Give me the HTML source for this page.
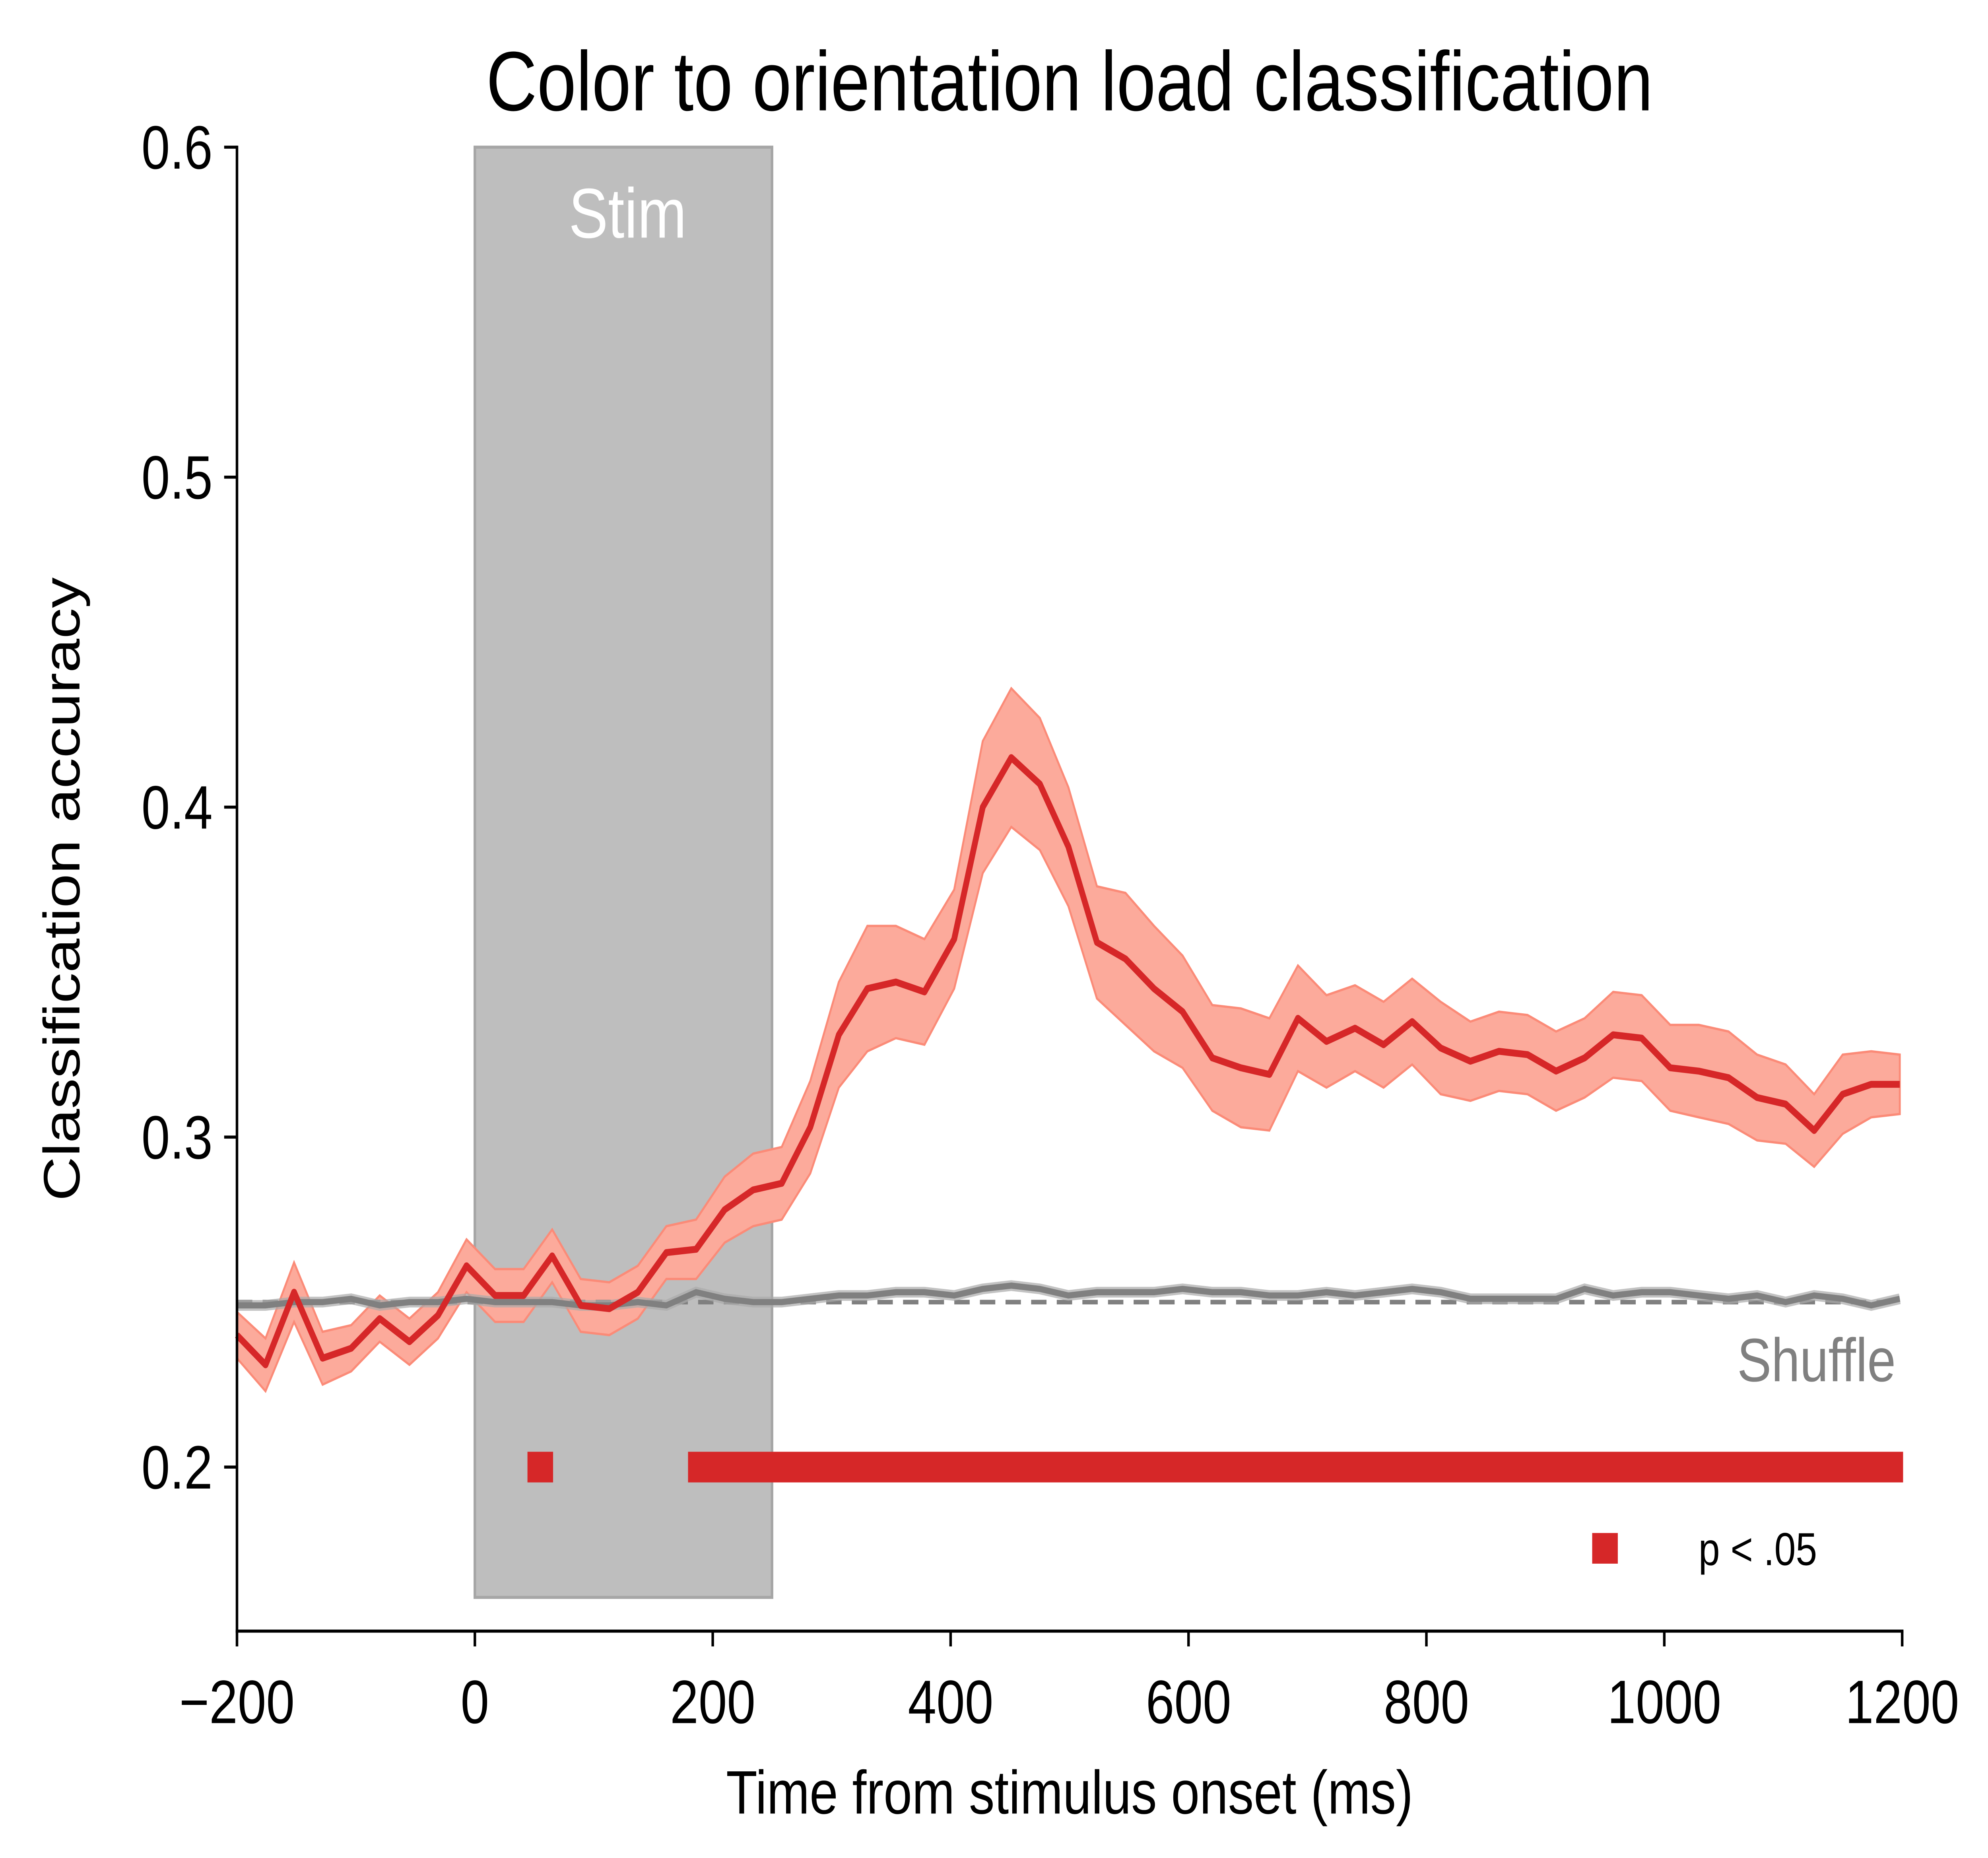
<!DOCTYPE html>
<html><head><meta charset="utf-8"><style>html,body{margin:0;padding:0;background:#fff;width:100%;height:100%;overflow:hidden}svg{display:block;width:100vw;height:100vh}text{font-family:"Liberation Sans",Arial,sans-serif}</style></head>
<body>
<svg id="chart" viewBox="0 0 1552 1212" preserveAspectRatio="none" xmlns="http://www.w3.org/2000/svg">
<rect x="0" y="0" width="1552" height="1212" fill="#fff"/>
<text x="835" y="72" font-size="55" text-anchor="middle">Color to orientation load classification</text>
<rect x="370.7" y="96" width="232" height="946" fill="#bebebe" stroke="#a6a6a6" stroke-width="2"/>
<text x="490" y="155" font-size="46" fill="#fff" text-anchor="middle">Stim</text>
<g id="plot"></g>
<g id="axes"></g>
<text x="1480" y="901" font-size="40" fill="#808080" text-anchor="end">Shuffle</text>
<rect x="1243" y="1000" width="20" height="20" fill="#d62728"/>
<text x="1326" y="1021" font-size="30">p &lt; .05</text>
<text x="835" y="1183" font-size="40" text-anchor="middle">Time from stimulus onset (ms)</text>
<text transform="translate(62,580) rotate(-90)" font-size="40" text-anchor="middle">Classification accuracy</text>
</svg>
<script>
const times=[-200,-176,-152,-128,-104,-80,-55,-31,-7,17,41,65,89,113,137,161,186,210,234,258,282,306,330,354,378,403,427,451,475,499,523,547,571,595,620,644,668,692,716,740,764,788,812,837,861,885,909,933,957,981,1005,1029,1054,1078,1102,1126,1150,1174,1198];
const accuracy=[0.240,0.231,0.253,0.233,0.236,0.245,0.238,0.246,0.261,0.252,0.252,0.264,0.249,0.248,0.253,0.265,0.266,0.278,0.284,0.286,0.303,0.331,0.345,0.347,0.344,0.360,0.400,0.415,0.407,0.388,0.359,0.354,0.345,0.338,0.324,0.321,0.319,0.336,0.329,0.333,0.328,0.335,0.327,0.323,0.326,0.325,0.320,0.324,0.331,0.330,0.321,0.320,0.318,0.312,0.310,0.302,0.313,0.316,0.316];
const errors=[0.007,0.008,0.009,0.008,0.007,0.007,0.007,0.007,0.008,0.008,0.008,0.008,0.008,0.008,0.008,0.008,0.009,0.010,0.011,0.011,0.014,0.016,0.019,0.017,0.016,0.015,0.020,0.021,0.020,0.018,0.017,0.020,0.019,0.017,0.016,0.018,0.017,0.016,0.014,0.013,0.013,0.013,0.014,0.012,0.012,0.012,0.012,0.012,0.013,0.013,0.013,0.014,0.014,0.013,0.012,0.011,0.012,0.010,0.009];
const shuffle=[0.249,0.249,0.250,0.250,0.251,0.249,0.250,0.250,0.251,0.250,0.250,0.250,0.249,0.249,0.250,0.249,0.253,0.251,0.250,0.250,0.251,0.252,0.252,0.253,0.253,0.252,0.254,0.255,0.254,0.252,0.253,0.253,0.253,0.254,0.253,0.253,0.252,0.252,0.253,0.252,0.253,0.254,0.253,0.251,0.251,0.251,0.251,0.254,0.252,0.253,0.253,0.252,0.251,0.252,0.250,0.252,0.251,0.249,0.251];
const sigTimes=[55,190,1190];
const xTicks=[-200,0,200,400,600,800,1000,1200];
const xTickLabels=["\u2212200","0","200","400","600","800","1000","1200"];
const yTicks=[0.2,0.3,0.4,0.5,0.6];
const yTickLabels=["0.2","0.3","0.4","0.5","0.6"];
const chance=0.25, sigLevel=0.2;

const X=t=>185+(t+200)*1300/1400;
const Y=v=>957-(v-0.2)*2152.5;
const NS="http://www.w3.org/2000/svg";
function mk(tag,attrs,parent){const e=document.createElementNS(NS,tag);for(const k in attrs)e.setAttribute(k,attrs[k]);parent.appendChild(e);return e;}
const plot=document.getElementById('plot'), axes=document.getElementById('axes');

let up=times.map((t,i)=>X(t)+','+Y(accuracy[i]+errors[i]));
let lo=times.map((t,i)=>X(t)+','+Y(accuracy[i]-errors[i])).reverse();
const band=mk('polygon',{points:up.concat(lo).join(' '),fill:'#fcaa9b',stroke:'#fb8b78','stroke-width':1.5},plot);


const ch=mk('line',{x1:X(-200),x2:X(1190),y1:Y(chance),y2:Y(chance),stroke:'#808080','stroke-width':3,'stroke-dasharray':'12,8'},plot);


const shb=mk('polyline',{points:times.map((t,i)=>X(t)+','+Y(shuffle[i])).join(' '),fill:'none',stroke:'#aaaaaa','stroke-width':7,opacity:0.7},plot);


const sh=mk('polyline',{points:times.map((t,i)=>X(t)+','+Y(shuffle[i])).join(' '),fill:'none',stroke:'#808080','stroke-width':4},plot);


const ln=mk('polyline',{points:times.map((t,i)=>X(t)+','+Y(accuracy[i])).join(' '),fill:'none',stroke:'#d62728','stroke-width':4.5,'stroke-linejoin':'round'},plot);


const s1=mk('rect',{x:X(sigTimes[0])-10,y:Y(sigLevel)-10,width:20,height:20,fill:'#d62728'},plot);


const s2=mk('rect',{x:X(sigTimes[1])-10,y:Y(sigLevel)-10,width:X(sigTimes[2])-X(sigTimes[1])+20,height:20,fill:'#d62728'},plot);


const xa=mk('line',{x1:184,x2:1486,y1:1064,y2:1064,stroke:'#000','stroke-width':2},axes);


const ya=mk('line',{x1:185,x2:185,y1:95,y2:1065,stroke:'#000','stroke-width':2},axes);


xTicks.forEach((t,i)=>{
  const tk=mk('line',{x1:X(t),x2:X(t),y1:1064,y2:1074,stroke:'#000','stroke-width':2},axes);
  
  
  const tx=mk('text',{x:X(t),y:1124,'font-size':40,'text-anchor':'middle'},axes);
  tx.textContent=xTickLabels[i];
  
  
});
yTicks.forEach((v,i)=>{
  const tk=mk('line',{x1:175,x2:185,y1:Y(v),y2:Y(v),stroke:'#000','stroke-width':2},axes);
  
  
  const tx=mk('text',{x:166,y:Y(v)+14,'font-size':40,'text-anchor':'end'},axes);
  tx.textContent=yTickLabels[i];
  
  
});
</script>
</body></html>
